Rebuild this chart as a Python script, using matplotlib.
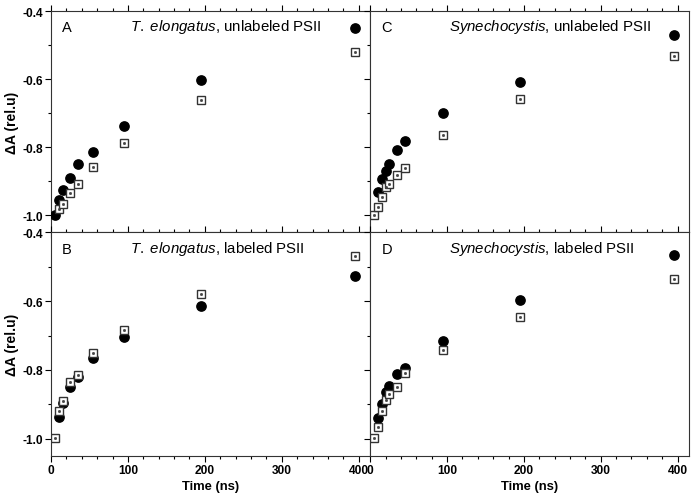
import matplotlib
matplotlib.use('Agg')
import matplotlib.pyplot as plt
from matplotlib.ticker import MultipleLocator

plt.rcParams['font.family'] = ['Liberation Sans', 'DejaVu Sans']
plt.rcParams['mathtext.fontset'] = 'custom'
plt.rcParams['mathtext.rm'] = 'Liberation Sans'
plt.rcParams['mathtext.it'] = 'Liberation Sans:italic'

# panel A: T. elongatus, unlabeled
a_circ_t = [5, 10, 15, 25, 35, 55, 95, 195, 395]
a_circ_y = [-1.0, -0.954, -0.926, -0.890, -0.850, -0.814, -0.737, -0.601, -0.451]
a_sq_t = [10, 15, 25, 35, 55, 95, 195, 395]
a_sq_y = [-0.980, -0.966, -0.934, -0.907, -0.857, -0.786, -0.661, -0.521]

# panel B: T. elongatus, labeled
b_circ_t = [10, 15, 25, 35, 55, 95, 195, 395]
b_circ_y = [-0.936, -0.897, -0.849, -0.820, -0.766, -0.703, -0.613, -0.526]
b_sq_t = [5, 10, 15, 25, 35, 55, 95, 195, 395]
b_sq_y = [-0.999, -0.919, -0.890, -0.836, -0.815, -0.752, -0.684, -0.580, -0.468]

# panel C: Synechocystis, unlabeled
c_circ_t = [10, 15, 20, 25, 35, 45, 95, 195, 395]
c_circ_y = [-0.932, -0.893, -0.869, -0.848, -0.808, -0.783, -0.698, -0.609, -0.470]
c_sq_t = [5, 10, 15, 20, 25, 35, 45, 95, 195, 395]
c_sq_y = [-0.999, -0.975, -0.946, -0.918, -0.908, -0.881, -0.861, -0.764, -0.658, -0.532]

# panel D: Synechocystis, labeled
d_circ_t = [10, 15, 20, 25, 35, 45, 95, 195, 395]
d_circ_y = [-0.941, -0.900, -0.863, -0.847, -0.813, -0.794, -0.715, -0.597, -0.467]
d_sq_t = [5, 10, 15, 20, 25, 35, 45, 95, 195, 395]
d_sq_y = [-0.999, -0.967, -0.921, -0.887, -0.871, -0.850, -0.810, -0.742, -0.645, -0.536]

letters = ['A', 'C', 'B', 'D']
species = ['T.\\ elongatus', 'Synechocystis', 'T.\\ elongatus', 'Synechocystis']
states = ['unlabeled PSII', 'unlabeled PSII', 'labeled PSII', 'labeled PSII']


def main():
    fig = plt.figure(figsize=(6.96, 5.02), dpi=100)
    left, mid, right = 0.0733, 0.532, 0.990
    top, hmid, bottom = 0.976, 0.535, 0.090
    pos = [[left, hmid, mid - left, top - hmid],
           [mid, hmid, right - mid, top - hmid],
           [left, bottom, mid - left, hmid - bottom],
           [mid, bottom, right - mid, hmid - bottom]]
    data = [(a_circ_t, a_circ_y, a_sq_t, a_sq_y),
            (c_circ_t, c_circ_y, c_sq_t, c_sq_y),
            (b_circ_t, b_circ_y, b_sq_t, b_sq_y),
            (d_circ_t, d_circ_y, d_sq_t, d_sq_y)]

    for i in range(4):
        ax = fig.add_axes(pos[i])
        ct, cy, st, sy = data[i]
        ax.plot(ct, cy, 'o', color='black', markersize=6.7, zorder=3)
        ax.plot(st, sy, 's', markerfacecolor='white', markeredgecolor='#333333',
                markeredgewidth=1.0, markersize=5.4, zorder=4)
        ax.plot(st, sy, 's', color='#444444', markersize=1.0, zorder=5)

        ax.set_xlim(0, 415)
        ax.set_ylim(-1.05, -0.4)
        ax.xaxis.set_major_locator(MultipleLocator(100))
        ax.xaxis.set_minor_locator(MultipleLocator(20))
        ax.yaxis.set_major_locator(MultipleLocator(0.2))
        ax.yaxis.set_minor_locator(MultipleLocator(0.1))
        ax.tick_params(which='both', top=True, right=False, width=0.8)
        ax.tick_params(axis='x', which='both', direction='out')
        ax.tick_params(which='major', length=4)
        ax.tick_params(which='minor', length=2.5)
        ax.tick_params(axis='both', labelsize=8.6, pad=2)
        for side in ['top', 'bottom', 'left', 'right']:
            ax.spines[side].set_linewidth(0.8)
            ax.spines[side].set_color('#333333')

        ax.yaxis.set_major_formatter(matplotlib.ticker.FuncFormatter(
            lambda v, p: '%.1f' % v))
        for lbl in ax.get_xticklabels() + ax.get_yticklabels():
            lbl.set_fontweight('bold')

        if i % 2 == 1:
            ax.tick_params(axis='y', labelleft=False)
        else:
            ax.set_ylabel('ΔA (rel.u)', fontsize=10, fontweight='bold',
                          labelpad=2)
        if i < 2:
            ax.tick_params(axis='x', labelbottom=False)
        else:
            ax.set_xlabel('Time (ns)', fontsize=9.4, fontweight='bold',
                          labelpad=3)

        ax.text(0.035, 0.908, letters[i], transform=ax.transAxes,
                fontsize=10.5, va='baseline')
        ax.text(0.247, 0.914, r'$\it{' + species[i] + '}$, ' + states[i],
                transform=ax.transAxes, fontsize=10.8, va='baseline')

    fig.savefig('out.png', dpi=100)


if __name__ == '__main__':
    main()
